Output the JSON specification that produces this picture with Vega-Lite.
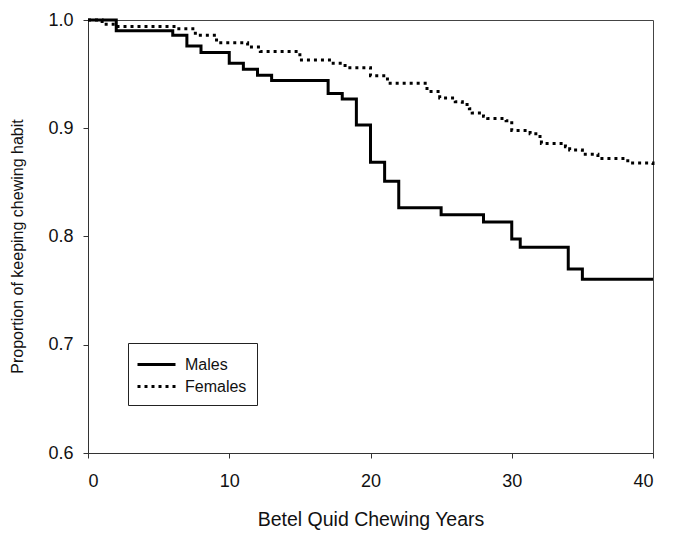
{
  "$schema": "https://vega.github.io/schema/vega-lite/v6.json",
  "autosize": "none",
  "width": 565,
  "height": 433,
  "padding": {"left": 88, "top": 20, "right": 32, "bottom": 104},
  "config": {
    "view": {"stroke": "#444", "strokeWidth": 1},
    "font": "Liberation Sans",
    "axis": {"labelFont": "Liberation Sans", "titleFont": "Liberation Sans", "labelFontSize": 18, "titleFontSize": 16, "titleFontWeight": "normal", "labelColor": "#111", "titleColor": "#111", "domainColor": "#333", "tickColor": "#333", "tickSize": 5, "grid": false}
  },
  "data": {"values": [
    {"sex": "Males", "years": 0, "p": 1.0},
    {"sex": "Males", "years": 2, "p": 0.990},
    {"sex": "Males", "years": 6, "p": 0.986},
    {"sex": "Males", "years": 7, "p": 0.976},
    {"sex": "Males", "years": 8, "p": 0.970},
    {"sex": "Males", "years": 10, "p": 0.960},
    {"sex": "Males", "years": 11, "p": 0.9545},
    {"sex": "Males", "years": 12, "p": 0.949},
    {"sex": "Males", "years": 13, "p": 0.944},
    {"sex": "Males", "years": 17, "p": 0.932},
    {"sex": "Males", "years": 18, "p": 0.927},
    {"sex": "Males", "years": 19, "p": 0.903},
    {"sex": "Males", "years": 20, "p": 0.8685},
    {"sex": "Males", "years": 21, "p": 0.851},
    {"sex": "Males", "years": 22, "p": 0.8266},
    {"sex": "Males", "years": 25, "p": 0.820},
    {"sex": "Males", "years": 28, "p": 0.8134},
    {"sex": "Males", "years": 30, "p": 0.7977},
    {"sex": "Males", "years": 30.6, "p": 0.790},
    {"sex": "Males", "years": 34, "p": 0.770},
    {"sex": "Males", "years": 35, "p": 0.7605},
    {"sex": "Males", "years": 40, "p": 0.7605},
    {"sex": "Females", "years": 0, "p": 1.0},
    {"sex": "Females", "years": 1, "p": 0.996},
    {"sex": "Females", "years": 2, "p": 0.994},
    {"sex": "Females", "years": 6.3, "p": 0.992},
    {"sex": "Females", "years": 7.6, "p": 0.986},
    {"sex": "Females", "years": 9.1, "p": 0.979},
    {"sex": "Females", "years": 11.3, "p": 0.975},
    {"sex": "Females", "years": 12.2, "p": 0.971},
    {"sex": "Females", "years": 15, "p": 0.963},
    {"sex": "Females", "years": 17.2, "p": 0.960},
    {"sex": "Females", "years": 18.2, "p": 0.956},
    {"sex": "Females", "years": 20, "p": 0.9485},
    {"sex": "Females", "years": 21.2, "p": 0.9415},
    {"sex": "Females", "years": 24, "p": 0.934},
    {"sex": "Females", "years": 24.9, "p": 0.928},
    {"sex": "Females", "years": 26, "p": 0.9245},
    {"sex": "Females", "years": 26.5, "p": 0.922},
    {"sex": "Females", "years": 27, "p": 0.918},
    {"sex": "Females", "years": 27.2, "p": 0.914},
    {"sex": "Females", "years": 28, "p": 0.911},
    {"sex": "Females", "years": 28.3, "p": 0.909},
    {"sex": "Females", "years": 29.6, "p": 0.907},
    {"sex": "Females", "years": 30, "p": 0.898},
    {"sex": "Females", "years": 31.3, "p": 0.895},
    {"sex": "Females", "years": 32, "p": 0.890},
    {"sex": "Females", "years": 32.1, "p": 0.886},
    {"sex": "Females", "years": 33.8, "p": 0.883},
    {"sex": "Females", "years": 34.1, "p": 0.880},
    {"sex": "Females", "years": 35, "p": 0.876},
    {"sex": "Females", "years": 36.1, "p": 0.872},
    {"sex": "Females", "years": 38, "p": 0.870},
    {"sex": "Females", "years": 38.4, "p": 0.868},
    {"sex": "Females", "years": 39.9, "p": 0.868},
    {"sex": "Females", "years": 40, "p": 0.863}
  ]},
  "mark": {"type": "line", "interpolate": "step-after", "color": "black", "strokeWidth": 3, "strokeCap": "butt"},
  "encoding": {
    "x": {"field": "years", "type": "quantitative", "scale": {"domain": [0, 40], "nice": false}, "axis": {"values": [0, 10, 20, 30, 40], "title": "Betel Quid Chewing Years", "titleFontSize": 19.5, "titleBaseline": "middle", "titleY": 66, "labelPadding": 14}},
    "y": {"field": "p", "type": "quantitative", "scale": {"domain": [0.6, 1.0], "nice": false, "zero": false}, "axis": {"values": [0.6, 0.7, 0.8, 0.9, 1.0], "format": ".1f", "title": "Proportion of keeping chewing habit", "titleFontSize": 16, "titleBaseline": "middle", "titleX": -71, "titleY": 226, "labelPadding": 10}},
    "strokeDash": {"field": "sex", "type": "nominal", "scale": {"domain": ["Males", "Females"], "range": [[1, 0], [3, 4]]}, "legend": {"title": null, "orient": "none", "legendX": 40, "legendY": 323, "strokeColor": "#222", "fillColor": "white", "padding": 10, "symbolType": "M-1.2,0H2.6", "symbolSize": 400, "symbolStrokeWidth": 3, "symbolStrokeColor": "black", "labelFont": "Liberation Sans", "labelFontSize": 16, "labelColor": "#111", "labelOffset": 24, "rowPadding": 2}}
  }
}
